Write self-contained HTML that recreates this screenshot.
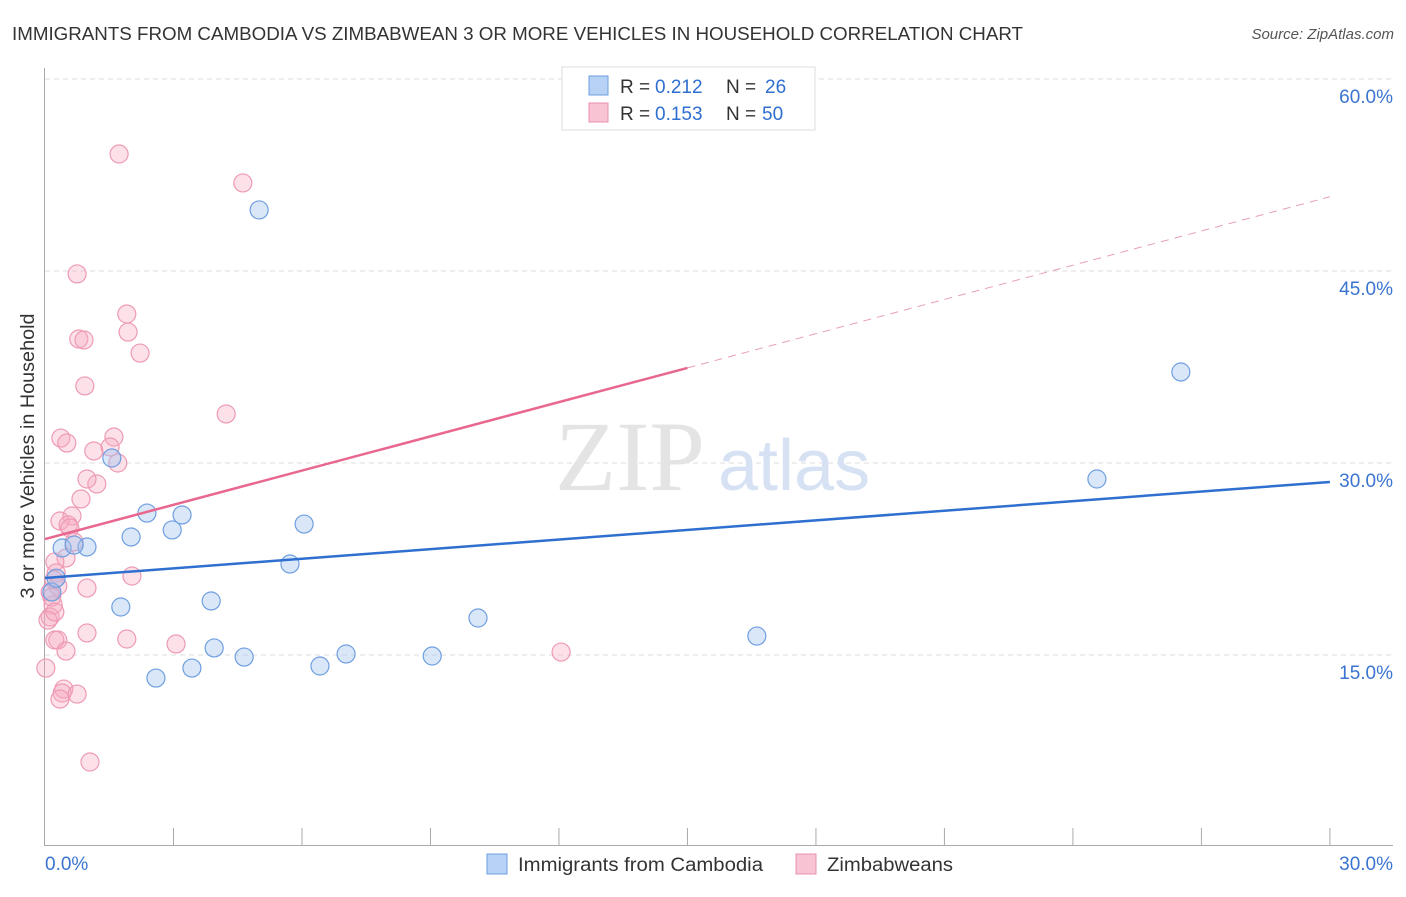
<!DOCTYPE html>
<html><head><meta charset="utf-8"><style>
body{margin:0;background:#fff;font-family:"Liberation Sans",sans-serif;}
</style></head><body>
<svg width="1406" height="892" viewBox="0 0 1406 892" xmlns="http://www.w3.org/2000/svg">
<text x="12" y="40" font-size="18" fill="#333" textLength="1011" lengthAdjust="spacingAndGlyphs">IMMIGRANTS FROM CAMBODIA VS ZIMBABWEAN 3 OR MORE VEHICLES IN HOUSEHOLD CORRELATION CHART</text>
<text x="1394" y="39" font-size="15" fill="#555" font-style="italic" text-anchor="end">Source: ZipAtlas.com</text>
<g id="grid"></g>
<g id="axes"></g>
<text x="555" y="490" font-size="100" fill="#e4e4e4" font-family="Liberation Serif,serif">ZIP</text>
<text x="718" y="490" font-size="72" fill="#d6e2f3">atlas</text>
<g id="marks"></g>
<text transform="translate(34,456) rotate(-90)" font-size="19" fill="#333" text-anchor="middle" textLength="285" lengthAdjust="spacingAndGlyphs">3 or more Vehicles in Household</text>
<g>
<rect x="562" y="67" width="253" height="63" fill="#fff" stroke="#ddd"/>
<rect x="589" y="76" width="19" height="19" fill="#b8d2f5" stroke="#6d9de0"/>
<rect x="589" y="103" width="19" height="19" fill="#f8c4d4" stroke="#e890ac"/>
<text x="620" y="93" font-size="19" fill="#333">R =</text>
<text x="655" y="93" font-size="19" fill="#2f6fd0">0.212</text>
<text x="726" y="93" font-size="19" fill="#333">N =</text>
<text x="765" y="93" font-size="19" fill="#2f6fd0">26</text>
<text x="620" y="120" font-size="19" fill="#333">R =</text>
<text x="655" y="120" font-size="19" fill="#2f6fd0">0.153</text>
<text x="726" y="120" font-size="19" fill="#333">N =</text>
<text x="762" y="120" font-size="19" fill="#2f6fd0">50</text>
</g>
<g>
<rect x="487" y="854" width="20" height="20" fill="#b8d2f5" stroke="#6d9de0"/>
<text x="518" y="871" font-size="19" fill="#333" textLength="245" lengthAdjust="spacingAndGlyphs">Immigrants from Cambodia</text>
<rect x="796" y="854" width="20" height="20" fill="#f8c4d4" stroke="#e890ac"/>
<text x="827" y="871" font-size="19" fill="#333" textLength="126" lengthAdjust="spacingAndGlyphs">Zimbabweans</text>
</g>
</svg>
<script>
const yTicks=[15,30,45,60];
const yTickLabels=["15.0%","30.0%","45.0%","60.0%"];
const xTickLabels=["0.0%","30.0%"];
const blueX=[5.00,26.52,24.56,1.56,2.38,3.20,2.97,2.01,6.05,0.40,0.98,0.68,5.72,1.77,3.88,10.11,16.62,3.95,4.65,7.03,9.04,6.42,3.43,2.59,0.16,0.26];
const blueY=[49.77,37.11,28.75,30.39,26.09,25.94,24.77,24.22,25.23,23.36,23.44,23.59,22.11,18.75,19.22,17.89,16.48,15.55,14.84,15.08,14.92,14.14,13.98,13.20,19.92,21.0];
const pinkX=[1.73,4.62,0.75,1.91,1.94,2.22,0.79,0.91,0.93,4.23,0.37,0.51,1.61,1.52,1.14,1.70,1.21,0.98,0.84,0.63,0.35,0.54,0.68,0.49,2.03,0.23,0.26,0.21,0.12,0.98,0.19,0.12,0.07,0.30,0.23,0.98,1.91,3.06,0.49,12.05,0.02,0.44,0.40,0.35,0.75,1.05,0.30,0.58,0.16,0.23];
const pinkY=[54.14,51.88,44.77,41.64,40.23,38.59,39.69,39.61,36.02,33.83,31.95,31.56,32.03,31.25,30.94,30.00,28.36,28.75,27.19,25.86,25.47,25.16,23.83,22.58,21.17,22.27,21.41,20.86,19.92,20.23,18.91,17.97,17.73,16.17,16.17,16.72,16.25,15.86,15.31,15.23,13.98,12.34,12.03,11.56,11.95,6.64,20.39,24.92,19.53,18.36];
const blueTrend=[21.02,28.52];
const pinkTrend=[24.06,50.8];
const pinkSolidEnd=15;
const NS="http://www.w3.org/2000/svg";
const xs=v=>45+v*42.83, ys=v=>847-v*12.8;
function mk(t,a,p){const e=document.createElementNS(NS,t);for(const k in a)e.setAttribute(k,a[k]);document.getElementById(p).appendChild(e);return e;}
yTicks.forEach((t,i)=>{
 const g=mk('line',{x1:45,x2:1393,y1:ys(t),y2:ys(t),stroke:'#ddd','stroke-dasharray':'5,4'},'grid');
 
 
 const l=mk('text',{x:1393,y:ys(t)+24,'font-size':19,fill:'#3a74d0','text-anchor':'end'},'axes');l.textContent=yTickLabels[i];
 
 
});
mk('line',{x1:44.5,x2:44.5,y1:68,y2:846,stroke:'#aaa'},'axes');
mk('line',{x1:45,x2:1393,y1:845.5,y2:845.5,stroke:'#aaa'},'axes');
for(let i=1;i<=10;i++){mk('line',{x1:xs(i*3),x2:xs(i*3),y1:828,y2:846,stroke:'#aaa'},'axes');}
[0,30].forEach((v,i)=>{const t=mk('text',{x:i?1393:45,y:870,'font-size':19,fill:'#3a74d0','text-anchor':i?'end':'start'},'axes');t.textContent=xTickLabels[i];
 
 });
pinkX.forEach((x,i)=>{const c=mk('circle',{cx:xs(x),cy:ys(pinkY[i]),r:9,fill:'rgba(246,168,192,0.35)',stroke:'#ee9ab4','stroke-width':1.2},'marks');
 
 });
blueX.forEach((x,i)=>{const c=mk('circle',{cx:xs(x),cy:ys(blueY[i]),r:9,fill:'rgba(160,196,240,0.4)',stroke:'#6f9fe0','stroke-width':1.2},'marks');
 
 });
const pm=pinkTrend[0]+(pinkTrend[1]-pinkTrend[0])*pinkSolidEnd/30;
let l1=mk('line',{x1:xs(0),y1:ys(pinkTrend[0]),x2:xs(pinkSolidEnd),y2:ys(pm),stroke:'#e8678f','stroke-width':2.5},'marks');


let l2=mk('line',{x1:xs(pinkSolidEnd),y1:ys(pm),x2:xs(30),y2:ys(pinkTrend[1]),stroke:'#e8a0b6','stroke-width':1,'stroke-dasharray':'8,6'},'marks');


let l3=mk('line',{x1:xs(0),y1:ys(blueTrend[0]),x2:xs(30),y2:ys(blueTrend[1]),stroke:'#2f6fd0','stroke-width':2.5},'marks');


</script>
</body></html>
